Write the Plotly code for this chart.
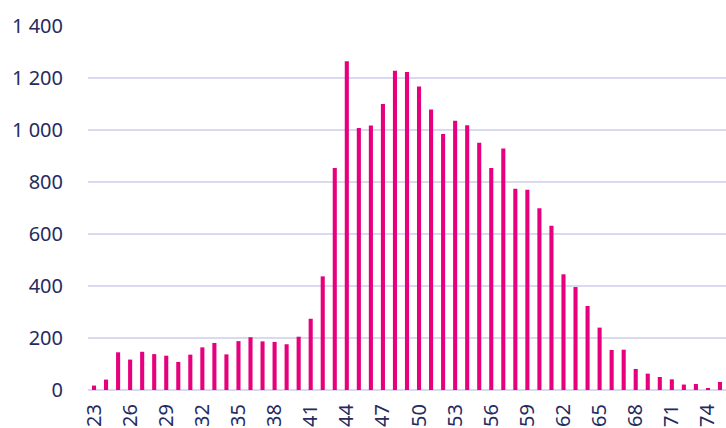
import plotly.graph_objects as go

ages = list(range(23, 76))
counts = [17, 40, 145, 117, 147, 138, 132, 108, 136, 164, 181, 137, 188,
          203, 187, 185, 176, 205, 274, 437, 854, 1264, 1008, 1017, 1100,
          1228, 1223, 1167, 1079, 985, 1036, 1018, 951, 854, 929, 774, 770,
          699, 632, 445, 396, 323, 240, 154, 155, 81, 63, 50, 41, 21, 23, 6, 31]
tick_ages = list(range(23, 75, 3))

TEXT = "#262b5e"
GRID = "#d9d9f0"

fig = go.Figure(go.Bar(x=ages, y=counts, width=0.34,
                       marker=dict(color="#e6007e", line=dict(width=0))))

fig.update_layout(
    width=726, height=428,
    margin=dict(l=88, r=0, t=26, b=38),
    plot_bgcolor="white", paper_bgcolor="white",
    separators=". ",
    showlegend=False,
    font=dict(family="Noto Sans", size=20, color=TEXT),
)
fig.update_xaxes(range=[22.5, 75.5], tickmode="array", tickvals=tick_ages,
                 ticktext=[str(a) for a in tick_ages], tickangle=-90,
                 showgrid=False, zeroline=False, showline=False,
                 ticklabelstandoff=9, automargin=False)
fig.update_yaxes(range=[0, 1400], dtick=200, tickformat=",d",
                 showgrid=True, gridcolor=GRID, gridwidth=2,
                 zeroline=True, zerolinecolor=GRID, zerolinewidth=2,
                 showline=False, ticklabelstandoff=24, automargin=False)

# drop the browser's default 8px body margin so the chart sits at 0,0
fig.write_html("out.html",
               config={"displayModeBar": False},
               post_script="document.body.style.margin='0';"
                           "document.body.style.overflow='hidden';")
